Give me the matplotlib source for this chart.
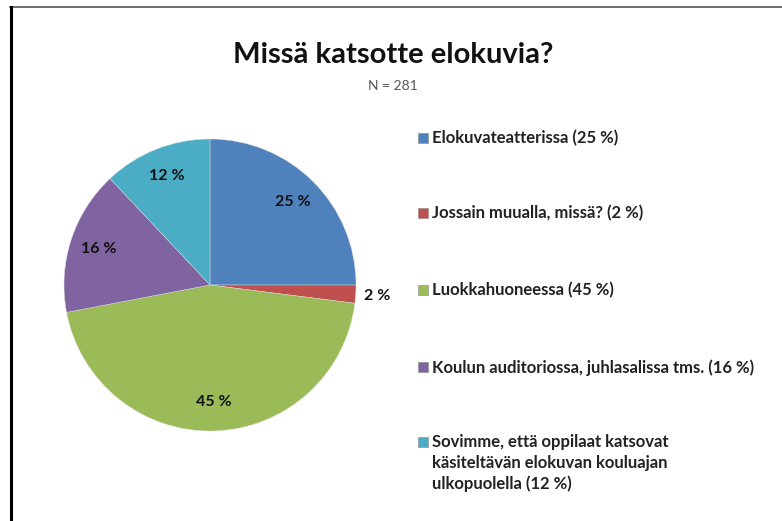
import numpy as np
import matplotlib.pyplot as plt
from matplotlib.patches import Rectangle
from matplotlib.lines import Line2D

# --- DATA ---
categories = [
    "Elokuvateatterissa",
    "Jossain muualla, missä?",
    "Luokkahuoneessa",
    "Koulun auditoriossa, juhlasalissa tms.",
    "Sovimme, että oppilaat katsovat\nkäsiteltävän elokuvan kouluajan\nulkopuolella",
]
values = [25, 2, 45, 16, 12]
colors = ["#4F81BD", "#C0504D", "#9BBB59", "#8064A2", "#4BACC6"]
title = "Missä katsotte elokuvia?"
subtitle = "N = 281"

FONT = "Lato"

fig = plt.figure(figsize=(7.82, 5.21), dpi=100)

# frame lines (top gray, left black)
fig.add_artist(Line2D([10 / 782, 1], [1 - 7 / 521] * 2, color="#555555", lw=1.2))
fig.add_artist(Line2D([11 / 782] * 2, [0, 1 - 7 / 521], color="black", lw=2.2))

fig.text(393 / 782, 1 - 55 / 521, title, ha="center", va="center",
         fontsize=21, fontweight="bold", family=FONT, color="#111111")
fig.text(393 / 782, 1 - 86 / 521, subtitle, ha="center", va="center",
         fontsize=10, family=FONT, color="#555555")

# pie
ax = fig.add_axes([64 / 782, 90 / 521, 292 / 782, 292 / 521])
wedges, _ = ax.pie(values, colors=colors, startangle=90, counterclock=False,
                   radius=1.0, wedgeprops=dict(linewidth=0.3, edgecolor="#dddddd"))
ax.set_xlim(-1, 1)
ax.set_ylim(-1, 1)
ax.set_aspect("equal")
ax.axis("off")

# data labels
for w, v in zip(wedges, values):
    mid = np.deg2rad((w.theta1 + w.theta2) / 2)
    d = 0.8 if v > 5 else 1.15
    ax.text(d * np.cos(mid), d * np.sin(mid), f"{v} %", ha="center", va="center",
            fontsize=11.5, fontweight="bold", family=FONT, color="#111111")

# legend (manual)
leg_y = [138, 213, 290, 367, 442]
for y, c, name, v in zip(leg_y, colors, categories, values):
    fig.add_artist(Rectangle((418 / 782, 1 - (y + 5) / 521), 10 / 782, 10 / 521,
                             facecolor=c, edgecolor="#888888", lw=0.4))
    fig.text(432 / 782, 1 - (y - 8) / 521, f"{name} ({v} %)", ha="left", va="top",
             fontsize=12, fontweight="bold", family=FONT, color="#222222",
             linespacing=1.35)

fig.savefig("out.png", dpi=100)
